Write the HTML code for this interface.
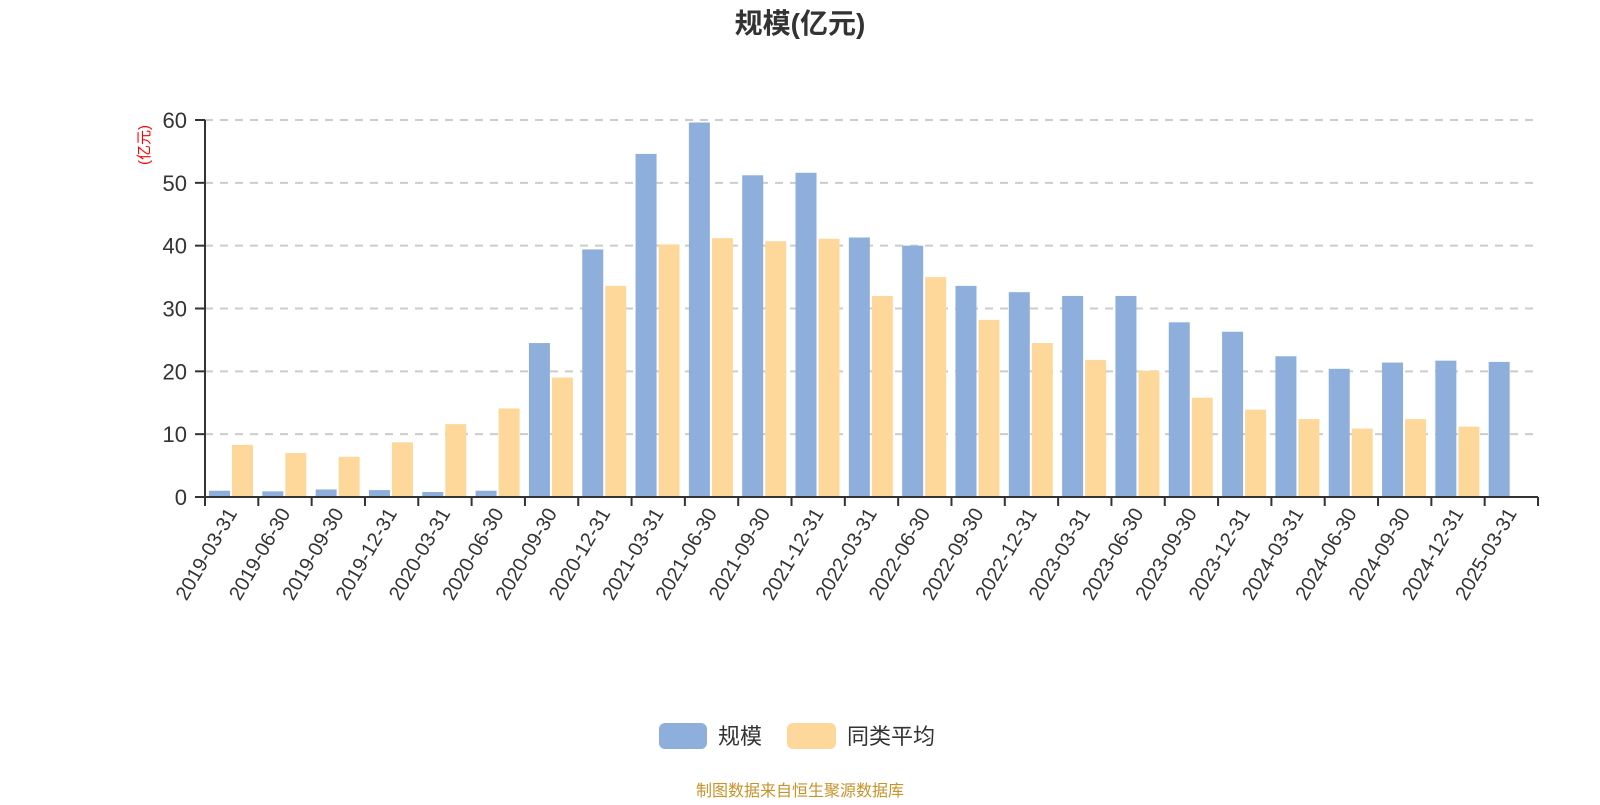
<!DOCTYPE html>
<html><head><meta charset="utf-8"><style>
body{margin:0;background:#fff;width:1600px;height:800px;overflow:hidden;font-family:"Liberation Sans","Noto Sans CJK SC",sans-serif}
</style></head><body>
<svg id="chart" width="1600" height="800" xmlns="http://www.w3.org/2000/svg" font-family="Liberation Sans, Noto Sans CJK SC, sans-serif">
<text x="800" y="33" text-anchor="middle" font-size="28" font-weight="bold" fill="#333">规模(亿元)</text>
<text transform="translate(149,145) rotate(-90)" text-anchor="middle" font-size="15" fill="#ff0000">(亿元)</text>
<g id="grid"></g><g id="bars"></g><g id="axes"></g>
<rect x="659" y="723" width="48" height="26" rx="6" fill="#8eaedb"/>
<text x="718" y="744" font-size="22" fill="#333">规模</text>
<rect x="787" y="723" width="49" height="26" rx="6" fill="#fed89b"/>
<text x="847" y="744" font-size="22" fill="#333">同类平均</text>
<text x="800" y="796" text-anchor="middle" font-size="16" fill="#c8922a">制图数据来自恒生聚源数据库</text>
</svg>
<script>
const categories=["2019-03-31","2019-06-30","2019-09-30","2019-12-31","2020-03-31","2020-06-30","2020-09-30","2020-12-31","2021-03-31","2021-06-30","2021-09-30","2021-12-31","2022-03-31","2022-06-30","2022-09-30","2022-12-31","2023-03-31","2023-06-30","2023-09-30","2023-12-31","2024-03-31","2024-06-30","2024-09-30","2024-12-31","2025-03-31"];
const scaleValues=[1.0,0.9,1.2,1.1,0.8,1.0,24.5,39.4,54.6,59.6,51.2,51.6,41.3,40.0,33.6,32.6,32.0,32.0,27.8,26.3,22.4,20.4,21.4,21.7,21.5];
const avgValues=[8.3,7.0,6.4,8.7,11.6,14.1,19.0,33.6,40.2,41.2,40.7,41.1,32.0,35.0,28.2,24.5,21.8,20.1,15.8,13.9,12.4,10.9,12.4,11.2,null];
const yTicks=[0,10,20,30,40,50,60];
const NS="http://www.w3.org/2000/svg";
const X0=205,X1=1538,Y0=497,Y60=120;
const cw=(X1-X0)/categories.length;
function xs(i){return X0+i*cw;}
function ys(v){return Y0-(v/60)*(Y0-Y60);}
function mk(tag,attrs,parent){const e=document.createElementNS(NS,tag);for(const k in attrs)e.setAttribute(k,attrs[k]);parent.appendChild(e);return e;}
const grid=document.getElementById('grid'),bars=document.getElementById('bars'),axes=document.getElementById('axes');
yTicks.forEach(t=>{
  const y=ys(t);
  if(t>0){const l=mk('line',{x1:X0,x2:X1,y1:y,y2:y,stroke:'#ccc','stroke-width':2,'stroke-dasharray':'8,7'},grid);
  
  }
  const tk=mk('line',{x1:X0-10,x2:X0,y1:y,y2:y,stroke:'#333','stroke-width':2},axes);
  
  
  const tx=mk('text',{x:X0-18,y:y+8,'text-anchor':'end','font-size':22,fill:'#333'},axes);
  tx.textContent=t;
  
  
});
categories.forEach((c,i)=>{
  const x=xs(i);
  const b=mk('rect',{x:x+4,y:ys(scaleValues[i]),width:21,height:Y0-ys(scaleValues[i]),fill:'#8eaedb'},bars);
  
  
  if(avgValues[i]!=null){
    const a=mk('rect',{x:x+27,y:ys(avgValues[i]),width:21,height:Y0-ys(avgValues[i]),fill:'#fed89b'},bars);
    
    
  }
  const tk=mk('line',{x1:x+cw,x2:x+cw,y1:Y0,y2:Y0+9,stroke:'#333','stroke-width':2},axes);
  
  
  const cx=x+cw/2;
  const tx=mk('text',{x:cx+6,y:Y0+16,'text-anchor':'end','font-size':20,fill:'#333',transform:'rotate(-60 '+(cx+6)+' '+(Y0+16)+')'},axes);
  tx.textContent=c;
  
  
});
const t0=mk('line',{x1:X0,x2:X0,y1:Y0,y2:Y0+9,stroke:'#333','stroke-width':2},axes);


const ya=mk('line',{x1:X0,x2:X0,y1:Y60,y2:Y0,stroke:'#333','stroke-width':2},axes);


const xa=mk('line',{x1:X0,x2:X1,y1:Y0,y2:Y0,stroke:'#333','stroke-width':2},axes);


</script>
</body></html>
